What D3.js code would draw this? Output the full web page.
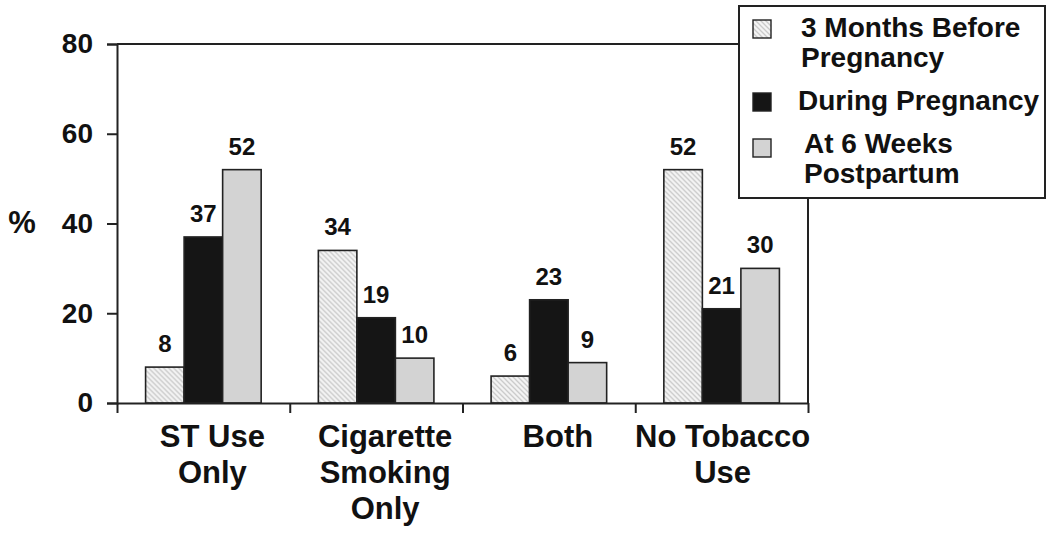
<!DOCTYPE html>
<html>
<head>
<meta charset="utf-8">
<script src="https://cdn.jsdelivr.net/npm/d3@7"></script>
<style>
  body { margin: 0; background: #fff; }
  svg { display: block; font-family: "Liberation Sans", Arial, sans-serif; font-weight: bold; }
</style>
</head>
<body>
<svg width="1050" height="534"></svg>
<script>
const categories = [["ST Use", "Only"], ["Cigarette", "Smoking", "Only"], ["Both"], ["No Tobacco", "Use"]];
const series = ["3 Months Before Pregnancy", "During Pregnancy", "At 6 Weeks Postpartum"];
const before = [8, 34, 6, 52];
const during = [37, 19, 23, 21];
const after = [52, 10, 9, 30];
const yTicks = [0, 20, 40, 60, 80];
const legendLines = [["3 Months Before", "Pregnancy"], ["During Pregnancy"], ["At 6 Weeks", "Postpartum"]];

const svg = d3.select("svg");
const plotLeft = 117, plotRight = 808, plotTop = 44, plotBottom = 403;

// hatch pattern for the first series
const defs = svg.append("defs");
const pat = defs.append("pattern").attr("id", "hatch")
  .attr("patternUnits", "userSpaceOnUse").attr("width", 5).attr("height", 5);
pat.append("rect").attr("width", 5).attr("height", 5).attr("fill", "#f4f4f4");
pat.append("path").attr("d", "M0,0L5,5M-1,4L1,6M4,-1L6,1")
  .attr("stroke", "#cacaca").attr("stroke-width", 1.3);

const fills = ["url(#hatch)", "#151515", "#d3d3d3"];
const values = [before, during, after];

const catKeys = categories.map(c => c.join(" "));
const x0 = d3.scaleBand().domain(catKeys).range([plotLeft, plotRight])
  .paddingInner(0.331).paddingOuter(0.1655);
const x1 = d3.scaleBand().domain(series).range([0, x0.bandwidth()]);
const y = d3.scaleLinear().domain([0, 80]).range([plotBottom, plotTop]);
const xEdges = d3.scaleLinear().domain([0, 4]).range([plotLeft, plotRight]);

// frame: top and right
svg.append("line").attr("x1", plotLeft).attr("x2", plotRight).attr("y1", plotTop).attr("y2", plotTop)
  .attr("stroke", "#222").attr("stroke-width", 2);
svg.append("line").attr("x1", plotRight).attr("x2", plotRight).attr("y1", plotTop).attr("y2", plotBottom)
  .attr("stroke", "#222").attr("stroke-width", 2);

// bars
const rows = catKeys.map((k, i) => ({ key: k, vals: series.map((s, j) => ({ s, j, v: values[j][i] })) }));
const groups = svg.append("g").selectAll("g").data(rows).join("g")
  .attr("transform", d => `translate(${x0(d.key)},0)`);
groups.selectAll("rect").data(d => d.vals).join("rect")
  .attr("x", d => x1(d.s))
  .attr("y", d => y(d.v))
  .attr("width", x1.bandwidth())
  .attr("height", d => y(0) - y(d.v))
  .attr("fill", d => fills[d.j])
  .attr("stroke", "#222").attr("stroke-width", 1.6);
groups.selectAll("text").data(d => d.vals).join("text")
  .attr("x", d => x1(d.s) + x1.bandwidth() / 2)
  .attr("y", d => y(d.v) - 15)
  .attr("text-anchor", "middle")
  .attr("font-size", 24).attr("fill", "#111")
  .text(d => d.v);

// y axis
const yAxis = svg.append("g").attr("transform", `translate(${plotLeft},0)`)
  .call(d3.axisLeft(y).tickValues(yTicks).tickSize(10).tickPadding(14));
yAxis.selectAll("text").attr("font-size", 28).attr("font-family", null).attr("fill", "#111");
yAxis.selectAll("line, path").attr("stroke", "#222").attr("stroke-width", 2);

// x axis
const xAxis = svg.append("g").attr("transform", `translate(0,${plotBottom})`)
  .call(d3.axisBottom(xEdges).tickValues([0, 1, 2, 3, 4]).tickFormat("").tickSize(10).tickSizeOuter(0));
xAxis.selectAll("line, path").attr("stroke", "#222").attr("stroke-width", 2);

// category labels
const catLabels = svg.append("g").selectAll("text").data(categories).join("text")
  .attr("text-anchor", "middle").attr("font-size", 31).attr("fill", "#111")
  .attr("transform", (d, i) => `translate(${x0(catKeys[i]) + x0.bandwidth() / 2 + (i === 3 ? 1 : 9)},447)`);
catLabels.selectAll("tspan").data(d => d).join("tspan")
  .attr("x", 0).attr("y", (d, i) => i * 36).text(d => d);

// y label
svg.append("text").attr("x", 22).attr("y", 233).attr("text-anchor", "middle")
  .attr("font-size", 31).attr("fill", "#111").text("%");

// legend
const lg = svg.append("g");
lg.append("rect").attr("x", 739).attr("y", 6).attr("width", 306).attr("height", 192)
  .attr("fill", "#fff").attr("stroke", "#222").attr("stroke-width", 2);
const swatchY = [20, 93, 139];
const textX = [801, 798, 804];
const textY = [37, 110, 153];
legendLines.forEach((lines, i) => {
  lg.append("rect").attr("x", 753).attr("y", swatchY[i]).attr("width", 18).attr("height", 18)
    .attr("fill", fills[i]).attr("stroke", "#222").attr("stroke-width", 1.4);
  const t = lg.append("text").attr("font-size", 28).attr("fill", "#111");
  lines.forEach((l, k) => {
    t.append("tspan").attr("x", textX[i]).attr("y", textY[i] + k * 30).text(l);
  });
});
</script>
</body>
</html>
